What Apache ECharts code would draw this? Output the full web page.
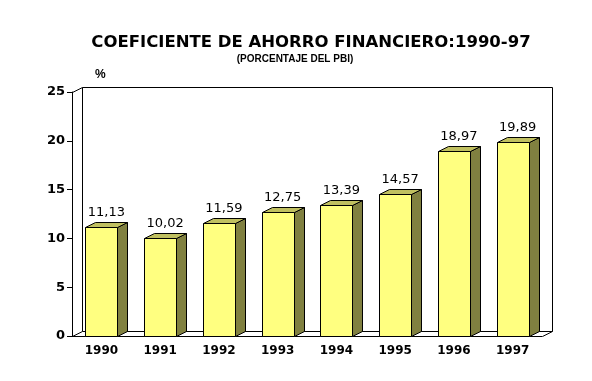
<!DOCTYPE html>
<html>
<head>
<meta charset="utf-8">
<script src="https://cdn.jsdelivr.net/npm/echarts@6/dist/echarts.min.js"></script>
<style>html,body{margin:0;padding:0;background:#fff}#c{width:592px;height:381px}</style>
</head>
<body>
<div id="c"></div>
<script>
const categories = ['1990', '1991', '1992', '1993', '1994', '1995', '1996', '1997'];
const values = [11.13, 10.02, 11.59, 12.75, 13.39, 14.57, 18.97, 19.89];
const yTicks = [0, 5, 10, 15, 20, 25];

const DX = 10, DY = -5;
const BAR_RATIO = 0.545;
const FRONT = '#FFFF80', SIDE = '#808040', TOP = '#C0C060';
const FONT = '"Liberation Sans", Arial, sans-serif';
const WFONT = '"DejaVu Sans", sans-serif';

function fmt(v) { return v.toFixed(2).replace('.', ','); }

function renderWall(params, api) {
  const cs = params.coordSys;
  const x = Math.round(cs.x) + 0.5, y = Math.round(cs.y) + 0.5;
  const w = Math.round(cs.width), h = Math.round(cs.height);
  const ls = { stroke: '#000', lineWidth: 1, fill: null };
  return {
    type: 'group',
    children: [
      { type: 'rect', shape: { x: x + DX, y: y + DY, width: w, height: h }, style: { fill: '#fff', stroke: '#000', lineWidth: 1 } },
      { type: 'line', shape: { x1: x, y1: y, x2: x + DX, y2: y + DY }, style: ls },
      { type: 'line', shape: { x1: x, y1: y + h, x2: x + DX, y2: y + h + DY }, style: ls },
      { type: 'line', shape: { x1: x + w, y1: y + h, x2: x + w + DX, y2: y + h + DY }, style: ls }
    ]
  };
}

function renderBar(params, api) {
  const i = api.value(0), v = api.value(1);
  const top = api.coord([i, v]);
  const base = api.coord([i, 0]);
  const bw = Math.round(api.size([1, 0])[0] * BAR_RATIO);
  const x0 = Math.round(top[0] - bw / 2) + 0.5, x1 = x0 + bw;
  const yT = Math.round(top[1]) + 0.5, yB = Math.round(base[1]) + 0.5;
  const st = { stroke: '#000', lineWidth: 1 };
  return {
    type: 'group',
    children: [
      { type: 'polygon', shape: { points: [[x1, yB], [x1 + DX, yB + DY], [x1 + DX, yT + DY], [x1, yT]] }, style: Object.assign({ fill: SIDE }, st) },
      { type: 'polygon', shape: { points: [[x0, yT], [x0 + DX, yT + DY], [x1 + DX, yT + DY], [x1, yT]] }, style: Object.assign({ fill: TOP }, st) },
      { type: 'rect', shape: { x: x0, y: yT, width: bw, height: yB - yT }, style: Object.assign({ fill: FRONT }, st) },
      { type: 'text', style: { text: fmt(v), x: top[0] + DX / 2, y: yT + DY - 10, align: 'center', verticalAlign: 'middle', font: '13px ' + WFONT, fill: '#000' } }
    ]
  };
}

const chart = echarts.init(document.getElementById('c'), null, { renderer: 'canvas' });
chart.setOption({
  animation: false,
  backgroundColor: '#fff',
  title: [
    { text: 'COEFICIENTE DE AHORRO FINANCIERO:1990-97', left: 306, top: 29, textAlign: 'center',
      textStyle: { fontFamily: WFONT, fontWeight: 'bold', fontSize: 16.5, color: '#000' } },
    { text: '(PORCENTAJE DEL PBI)', left: 290, top: 49, textAlign: 'center',
      textStyle: { fontFamily: FONT, fontWeight: 'bold', fontSize: 10, color: '#000' } }
  ],
  graphic: [
    { type: 'text', left: 95, top: 69, style: { text: '%', font: 'bold 12px ' + FONT, fill: '#000' } }
  ],
  grid: { left: 72, right: 50, top: 92, bottom: 45 },
  xAxis: {
    type: 'category', data: categories,
    axisLine: { lineStyle: { color: '#000', width: 1 } },
    axisTick: { show: false },
    axisLabel: { color: '#000', fontFamily: WFONT, fontWeight: 'bold', fontSize: 12, margin: 9 },
    splitLine: { show: false }
  },
  yAxis: {
    type: 'value', min: 0, max: 25, interval: 5,
    axisLine: { show: true, lineStyle: { color: '#000', width: 1 } },
    axisTick: { show: true, length: 5, lineStyle: { color: '#000' } },
    axisLabel: { color: '#000', fontFamily: WFONT, fontWeight: 'bold', fontSize: 13, margin: 7,
      formatter: v => yTicks.includes(v) ? String(v) : '' },
    splitLine: { show: false }
  },
  series: [
    { type: 'custom', renderItem: renderWall, data: [[0, 0]], clip: false, z: 0, silent: true },
    { type: 'custom', renderItem: renderBar, data: values.map((v, i) => [i, v]), clip: false, z: 2 }
  ]
});
</script>
</body>
</html>
